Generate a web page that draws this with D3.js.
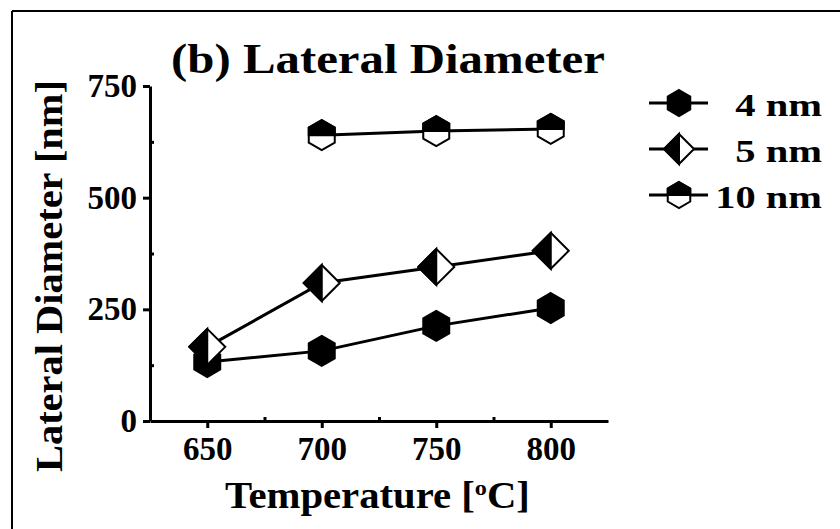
<!DOCTYPE html>
<html>
<head>
<meta charset="utf-8">
<script src="https://cdn.jsdelivr.net/npm/d3@7"></script>
<style>
  body { margin: 0; background: #fff; }
  svg text { font-family: "Liberation Serif", "Times New Roman", serif; font-weight: bold; fill: #000; }
  .axis path, .axis line { stroke: #000; stroke-width: 3; }
</style>
</head>
<body>
<div id="chart"></div>
<script>
// data
var temps = [650, 700, 750, 800];
var dia4 = [132, 157, 213, 253];
var dia5 = [166, 309, 345, 381];
var dia10 = [null, 640, 649, 654];
var seriesNames = ["4 nm", "5 nm", "10 nm"];
var xTicks = [650, 700, 750, 800];
var xMinor = [675, 725, 775];
var yTicks = [0, 250, 500, 750];
var yMinor = [125, 375, 625];

var svgwidth = 840;
var svgheight = 529;

var svg = d3.select("#chart")
    .append("svg")
    .attr("width", svgwidth)
    .attr("height", svgheight);

// outer frame (only top & left visible in the crop)
svg.append("line").attr("x1", 12).attr("x2", 840).attr("y1", 11).attr("y2", 11)
    .attr("stroke", "#000").attr("stroke-width", 2);
svg.append("line").attr("x1", 12).attr("x2", 12).attr("y1", 11).attr("y2", 529)
    .attr("stroke", "#000").attr("stroke-width", 2);

var xscale = d3.scaleLinear().domain([625, 825]).range([150, 608]);
var yscale = d3.scaleLinear().domain([0, 750]).range([421, 86]);

// axes
svg.append("g").attr("class", "axis")
    .attr("transform", "translate(0,421)")
    .call(d3.axisBottom(xscale).tickValues(xTicks).tickSize(7).tickSizeOuter(0).tickPadding(9));
svg.append("g").attr("class", "axis")
    .attr("transform", "translate(0,421)")
    .call(d3.axisBottom(xscale).tickValues(xMinor).tickSize(-4).tickSizeOuter(0).tickFormat(""))
    .select(".domain").remove();

svg.append("g").attr("class", "axis")
    .attr("transform", "translate(150,0)")
    .call(d3.axisLeft(yscale).tickValues(yTicks).tickSize(7).tickSizeOuter(0).tickPadding(6));
svg.append("g").attr("class", "axis")
    .attr("transform", "translate(150,0)")
    .call(d3.axisLeft(yscale).tickValues(yMinor).tickSize(-4).tickSizeOuter(0).tickFormat(""))
    .select(".domain").remove();

svg.selectAll(".axis text")
    .style("font-family", "'Liberation Serif', 'Times New Roman', serif")
    .style("font-weight", "bold")
    .style("font-size", "33px")
    .attr("fill", "#000");

// text stretched horizontally to the width seen in the picture
function stretchedText(tf, size, width, anchor) {
    var g = svg.append("g");
    var t = g.append("text")
        .attr("text-anchor", anchor)
        .style("font-size", size + "px");
    return {
        g: g, t: t,
        fit: function() {
            var w = t.node().getBBox().width;
            g.attr("transform", tf + " scale(" + (width / w) + ",1)");
        }
    };
}

var title = stretchedText("translate(171,73)", 42, 434, "start");
title.t.text("(b) Lateral Diameter");
title.fit();

var ylab = stretchedText("translate(62,472) rotate(-90)", 38, 392, "start");
ylab.t.text("Lateral Diameter [nm]");
ylab.fit();

var xlab = stretchedText("translate(225,508)", 37, 305, "start");
xlab.t.append("tspan").text("Temperature [");
xlab.t.append("tspan").attr("dy", -13).style("font-size", "22px").text("o");
xlab.t.append("tspan").attr("dy", 13).text("C]");
xlab.fit();

// marker shapes
var poly = d3.line();
function hexPts(r) {
    var w = r * Math.cos(Math.PI / 6);
    return [[0, -r], [w, -r / 2], [w, r / 2], [0, r], [-w, r / 2], [-w, -r / 2]];
}
function hexTop(r) {
    var w = r * Math.cos(Math.PI / 6);
    return [[0, -r], [w, -r / 2], [w, 0], [-w, 0], [-w, -r / 2]];
}
function diaPts(r) { return [[0, -r], [r, 0], [0, r], [-r, 0]]; }
function diaLeft(r) { return [[0, -r], [0, r], [-r, 0]]; }

function drawMarker(g, kind, size) {
    if (kind === 0) {
        g.append("path").attr("d", poly(hexPts(size)) + "Z")
            .attr("fill", "#000").attr("stroke", "#000").attr("stroke-width", 2);
    } else if (kind === 1) {
        g.append("path").attr("d", poly(diaPts(size)) + "Z")
            .attr("fill", "#fff").attr("stroke", "#000").attr("stroke-width", 2);
        g.append("path").attr("d", poly(diaLeft(size)) + "Z")
            .attr("fill", "#000").attr("stroke", "#000").attr("stroke-width", 2);
    } else {
        g.append("path").attr("d", poly(hexPts(size)) + "Z")
            .attr("fill", "#fff").attr("stroke", "#000").attr("stroke-width", 2);
        g.append("path").attr("d", poly(hexTop(size)) + "Z")
            .attr("fill", "#000").attr("stroke", "#000").attr("stroke-width", 2);
    }
}

var allSeries = [dia4, dia5, dia10];
var sizes = [15, 18, 15];

var line = d3.line()
    .defined(function(d) { return d.v !== null; })
    .x(function(d) { return xscale(d.t); })
    .y(function(d) { return yscale(d.v); });

allSeries.forEach(function(vals, i) {
    var pts = temps.map(function(t, j) { return {t: t, v: vals[j]}; });
    svg.append("path")
        .datum(pts)
        .attr("d", line)
        .attr("fill", "none")
        .attr("stroke", "#000")
        .attr("stroke-width", 3);
    pts.filter(function(d) { return d.v !== null; }).forEach(function(d) {
        var g = svg.append("g")
            .attr("transform", "translate(" + xscale(d.t) + "," + yscale(d.v) + ")");
        drawMarker(g, i, sizes[i]);
    });
});

// legend
var legendY = [103, 149, 195];
var legendW = [87, 87, 107];
seriesNames.forEach(function(name, i) {
    var lg = svg.append("g").attr("transform", "translate(0," + legendY[i] + ")");
    lg.append("line").attr("x1", 649).attr("x2", 708).attr("y1", 0).attr("y2", 0)
        .attr("stroke", "#000").attr("stroke-width", 3);
    var m = lg.append("g").attr("transform", "translate(679,0)");
    drawMarker(m, i, i === 1 ? 15 : 13);
    var lt = stretchedText("translate(822," + (legendY[i] + 13) + ")", 31, legendW[i], "end");
    lt.t.text(name);
    lt.fit();
});
</script>
</body>
</html>
